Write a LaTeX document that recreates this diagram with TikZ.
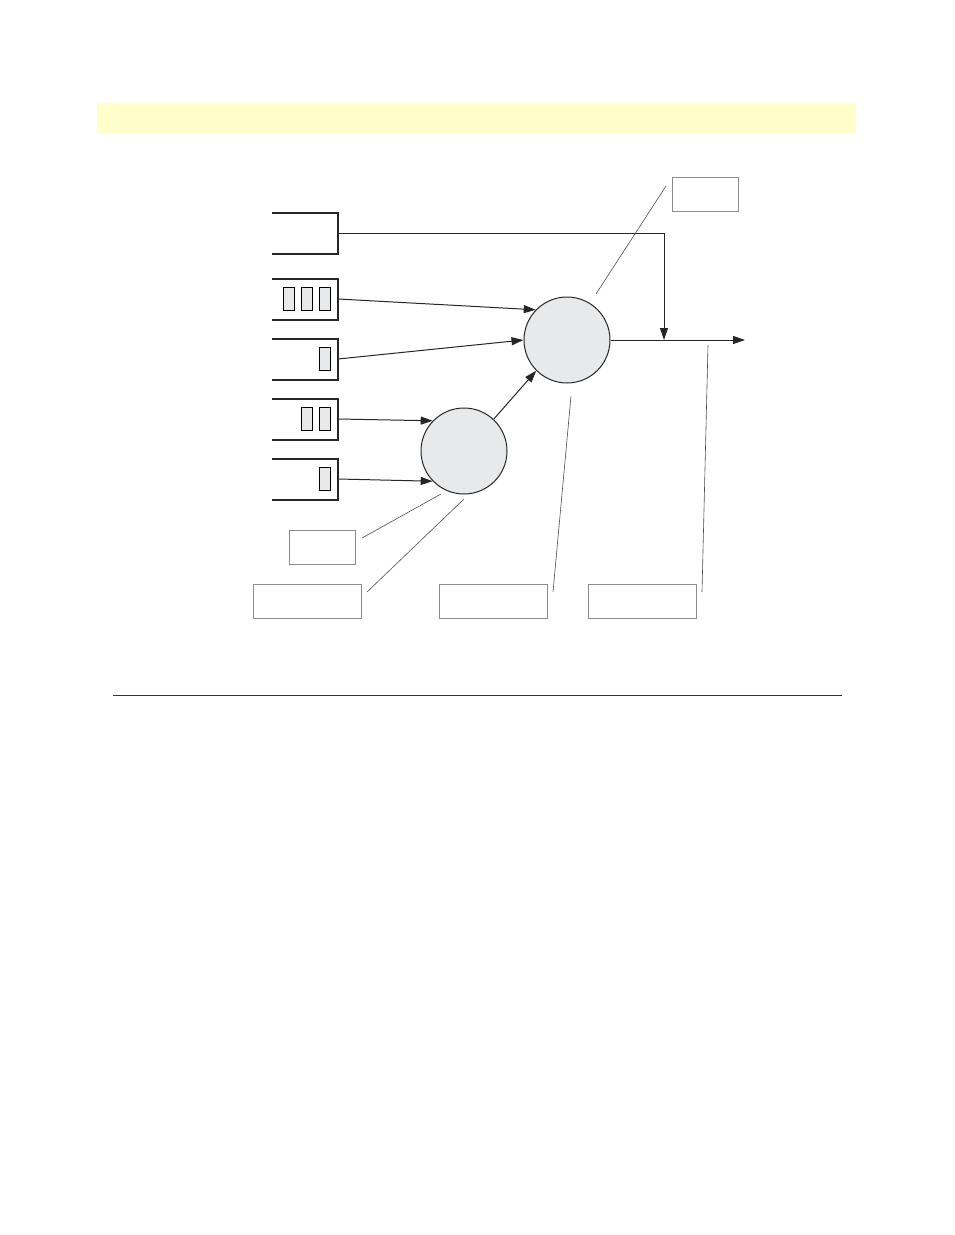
\documentclass[tikz,border=0pt]{standalone}
\usetikzlibrary{arrows.meta}
\definecolor{bandyellow}{HTML}{FFFFCC}
\definecolor{pktgray}{HTML}{E8E9EA}
\definecolor{boxgray}{HTML}{8C8C8C}
\begin{document}
\begin{tikzpicture}[x=0.75pt,y=-0.75pt,
  queue/.style={rectangle,inner sep=0pt,outer sep=0pt,minimum width=49.5pt,minimum height=30.75pt},
  qline/.style={line width=1.5pt,black!85},
  pkt/.style={rectangle,draw=black,line width=0.6pt,fill=pktgray,inner sep=0pt,minimum width=8.6pt,minimum height=17.6pt},
  sched/.style={circle,draw=black!85,line width=0.75pt,fill=pktgray,inner sep=0pt,minimum size=64.5pt},
  lbl/.style={rectangle,draw=boxgray,line width=0.7pt,inner sep=0pt,minimum height=26pt},
  flow/.style={line width=0.75pt,black!85,-{Triangle[length=9pt,width=6pt]}},
  callout/.style={line width=0.45pt,black!70}]
\useasboundingbox (0,0) rectangle (954,1235);
% band and rule
\fill[bandyellow] (97,103) rectangle (856,133);
\draw[line width=0.6pt,black!80] (113,695) -- (842,695);
% queues
\node[queue] (q1) at (305,233.5) {};
\node[queue] (q2) at (305,299) {};
\node[queue] (q3) at (305,359) {};
\node[queue] (q4) at (305,419) {};
\node[queue] (q5) at (305,479) {};
\foreach \q in {q1,q2,q3,q4,q5}{
  \draw[qline] (\q.north west) -- (\q.north east) -- (\q.south east) -- (\q.south west);
}
% packets
\node[pkt] (p21) at (289,299) {};
\node[pkt] (p22) at (307,299) {};
\node[pkt] (p23) at (325,299) {};
\node[pkt] (p31) at (325,359) {};
\node[pkt] (p41) at (307,419) {};
\node[pkt] (p42) at (325,419) {};
\node[pkt] (p51) at (325,479) {};
% schedulers
\node[sched] (big) at (567,340) {};
\node[sched] (small) at (464,451) {};
\coordinate (join) at (664,340);
\coordinate (out) at (745,340);
% flows
\draw[flow] (q1.east) -| (join);
\draw[flow] (q2.east) -- (big.136);
\draw[flow] (q3.east) -- (big.180);
\draw[flow] (q4.east) -- (small.136);
\draw[flow] (q5.east) -- (small.224);
\draw[flow] (small.47) -- (big.225);
\draw[flow] (big.east) -- (out);
% label boxes
\node[lbl,minimum width=49.5pt] (l1) at (705,194.5) {};
\node[lbl,minimum width=49.5pt] (l2) at (322,547.5) {};
\node[lbl,minimum width=81pt] (l3) at (307,601.5) {};
\node[lbl,minimum width=81pt] (l4) at (493,601.5) {};
\node[lbl,minimum width=81pt] (l5) at (642.5,601.5) {};
% callouts
\coordinate (c1a) at (666,186); \coordinate (c1b) at (596,294);
\coordinate (c2a) at (362,538); \coordinate (c2b) at (441,494);
\coordinate (c3a) at (367,592); \coordinate (c3b) at (464,499);
\coordinate (c4a) at (553,592); \coordinate (c4b) at (571,396);
\coordinate (c5a) at (702,592); \coordinate (c5b) at (708,345);
\draw[callout] (c1a) -- (c1b);
\draw[callout] (c2a) -- (c2b);
\draw[callout] (c3a) -- (c3b);
\draw[callout] (c4a) -- (c4b);
\draw[callout] (c5a) -- (c5b);
\end{tikzpicture}
\end{document}
